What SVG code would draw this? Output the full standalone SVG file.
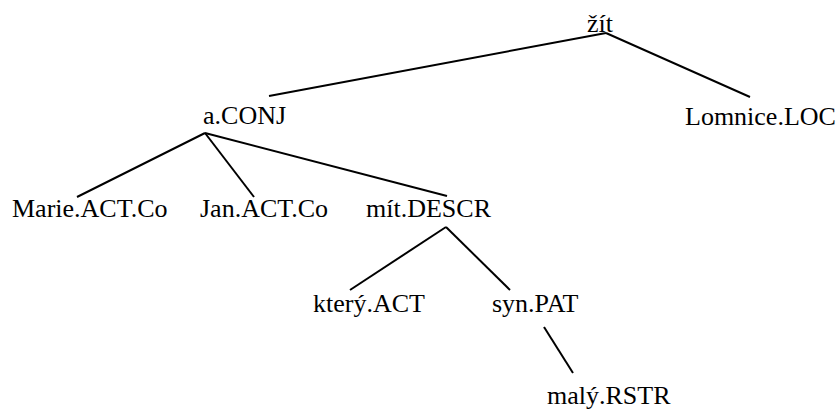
<svg xmlns="http://www.w3.org/2000/svg" width="840" height="410" viewBox="0 0 840 410">
<style>
text{font-family:'Liberation Serif','Times New Roman',Tinos,'DejaVu Serif','Noto Serif',serif;font-size:26px;fill:#000}
.e{stroke:#000;stroke-width:2;fill:none}
</style>
<rect width="840" height="410" fill="#fff"/>
<g id="edges">
<line class="e" x1="606" y1="33" x2="269" y2="96"/>
<line class="e" x1="606" y1="33" x2="750" y2="97"/>
<line class="e" x1="205" y1="133" x2="77" y2="197"/>
<line class="e" x1="205" y1="133" x2="254" y2="197"/>
<line class="e" x1="205" y1="133" x2="447" y2="196"/>
<line class="e" x1="446" y1="227" x2="350" y2="290"/>
<line class="e" x1="446" y1="227" x2="510" y2="290"/>
<line class="e" x1="544" y1="327" x2="573" y2="373"/>
</g>
<g id="n-zit"><text x="587" y="32">žít</text></g>
<g id="n-conj"><text x="203" y="124">a.CONJ</text></g>
<g id="n-lomnice"><text x="685" y="125">Lomnice.LOC</text></g>
<g id="n-marie"><text x="12" y="217">Marie.ACT.Co</text></g>
<g id="n-jan"><text x="200" y="217">Jan.ACT.Co</text></g>
<g id="n-mit"><text x="366" y="217">mít.DESCR</text></g>
<g id="n-ktery"><text x="313" y="312">který.ACT</text></g>
<g id="n-syn"><text x="492" y="312">syn.PAT</text></g>
<g id="n-maly"><text x="547" y="404">malý.RSTR</text></g>
</svg>
